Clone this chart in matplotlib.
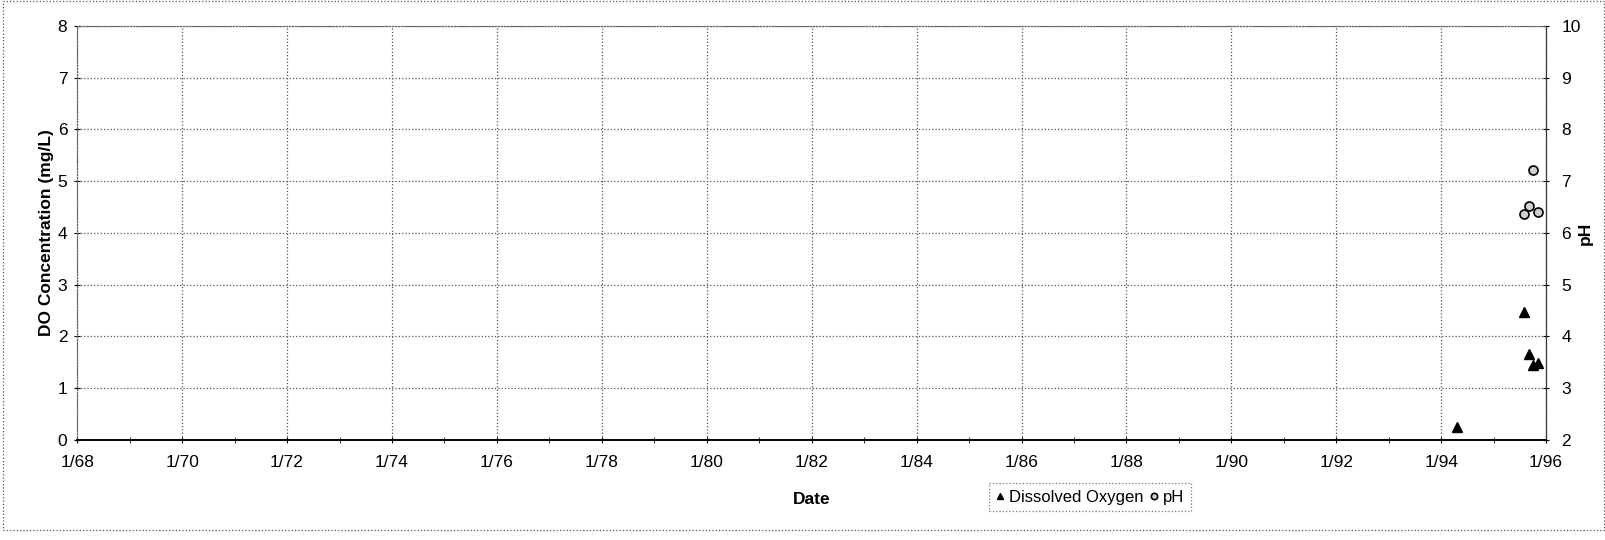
import pandas as pd
import matplotlib.pyplot as plt
import matplotlib.dates as mdates
from matplotlib.patches import Rectangle

plt.rcParams['font.family'] = ['Liberation Sans', 'DejaVu Sans']

# Sample dates and measured values
do_dates = pd.to_datetime(['1994-04-22', '1995-08-01', '1995-09-05', '1995-10-03', '1995-11-05'])
do_values = [0.26, 2.47, 1.67, 1.45, 1.49]
ph_dates = pd.to_datetime(['1995-08-01', '1995-09-05', '1995-10-03', '1995-11-05'])
ph_values = [6.37, 6.53, 7.21, 6.40]

tick_years = list(range(1968, 1997, 2))
tick_labels = ['1/%02d' % (y % 100) for y in tick_years]

fig = plt.figure(figsize=(16.06, 5.4), dpi=100)
ax = fig.add_axes([0.048, 0.1852, 0.9147, 0.7667])
ax2 = ax.twinx()

# DO on left axis, pH on right axis
h1, = ax.plot(do_dates, do_values, linestyle='none', marker='^', color='black',
              markersize=7, label='Dissolved Oxygen')
h2, = ax2.plot(ph_dates, ph_values, linestyle='none', marker='o', markersize=6.5,
               markerfacecolor='#d0d0d0', markeredgecolor='black', markeredgewidth=1.2,
               label='pH')

ax.set_xlim(pd.Timestamp('1968-01-01'), pd.Timestamp('1996-01-01'))
ax.set_xticks([pd.Timestamp('%d-01-01' % y) for y in tick_years])
ax.set_xticklabels(tick_labels)
ax.xaxis.set_minor_locator(mdates.YearLocator(1))

ax.set_ylim(0, 8)
ax.set_yticks(range(0, 9))
ax2.set_ylim(2, 10)
ax2.set_yticks(range(2, 11))

ax.grid(True, which='major', linestyle=':', color='#555555', linewidth=0.9)

for a in (ax, ax2):
    a.tick_params(labelsize=12.5, length=4, width=0.8, colors='black',
                  direction='inout', pad=5)
    for s in ('top', 'left'):
        a.spines[s].set_linestyle(':')
        a.spines[s].set_color('#666666')
    a.spines['bottom'].set_color('black')
    a.spines['bottom'].set_linewidth(1.2)
    a.spines['right'].set_color('#333333')
    a.spines['right'].set_linewidth(0.8)
ax.tick_params(axis='x', which='minor', length=4, direction='inout')
ax.tick_params(axis='x', pad=9)
ax2.tick_params(axis='y', pad=9)

ax.set_xlabel('Date', fontsize=12.5, fontweight='bold')
ax.xaxis.set_label_coords(0.5, -0.126)
ax.set_ylabel('DO Concentration (mg/L)', fontsize=12.5, fontweight='bold')
ax.yaxis.set_label_coords(-0.016, 0.5)
ax2.set_ylabel('pH', fontsize=12.5, fontweight='bold', rotation=90)
ax2.yaxis.set_label_coords(1.0218, 0.5)

leg = fig.legend(handles=[h1, h2], loc='center', bbox_to_anchor=(0.6787, 0.0796),
                 ncol=2, fontsize=12, frameon=True, fancybox=False,
                 handlelength=0.5, handletextpad=0.3, columnspacing=0.4,
                 borderpad=0.4, borderaxespad=0, markerscale=0.7)
leg.get_frame().set_edgecolor('#555555')
leg.get_frame().set_linestyle(':')
leg.get_frame().set_linewidth(0.9)

# dotted border round the whole chart area
fig.patches.append(Rectangle((0.002, 0.018), 0.997, 0.98, transform=fig.transFigure,
                             fill=False, linestyle=':', edgecolor='#555555', linewidth=0.9))

plt.savefig('out.png', dpi=100)
